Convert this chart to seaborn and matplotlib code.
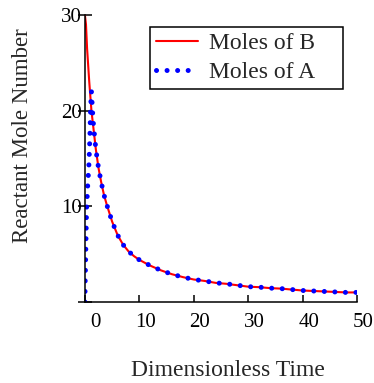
import numpy as np
import pandas as pd
import matplotlib
matplotlib.use("Agg")
import matplotlib.pyplot as plt
import matplotlib.transforms as mtransforms
import seaborn as sns

sns.set_style("ticks")
plt.rcParams["font.family"] = ["Liberation Serif", "DejaVu Serif"]

# ==========================================================
# DATA
# ==========================================================
tempo_b = [0, 0.2, 0.4, 0.8, 1.2, 1.6, 2, 2.5, 3, 3.5, 4, 5, 6, 7, 8, 9, 10,
           12, 14, 16, 18, 20, 22, 24, 26, 28, 30, 32, 34, 36, 38, 40, 42,
           44, 46, 48, 50]
moles_b = [30, 29, 26.5, 23, 20, 18, 16, 14, 12.5, 11.2, 10.2, 8.4, 7.0, 6.0,
           5.3, 4.8, 4.4, 3.8, 3.3, 2.9, 2.6, 2.35, 2.2, 2.0, 1.9, 1.75, 1.6,
           1.55, 1.45, 1.4, 1.3, 1.2, 1.15, 1.1, 1.05, 1.0, 1.0]

tempo_a = [0, 0.05, 0.15, 0.3, 0.5, 0.75, 0.9, 1.05, 1.2, 1.5, 2, 2.5, 3,
           3.5, 4, 5, 6, 7, 8, 9, 10, 12, 14, 16, 18, 20, 22, 24, 26, 28, 30,
           32, 34, 36, 38, 40, 42, 44, 46, 48, 50]
moles_a = [0, 2, 5, 9.6, 12, 14.5, 17, 20.3, 22, 19, 16, 14, 12.5, 11.2,
           10.2, 8.4, 7.0, 6.0, 5.3, 4.8, 4.4, 3.8, 3.3, 2.9, 2.6, 2.35, 2.2,
           2.0, 1.9, 1.75, 1.6, 1.55, 1.45, 1.4, 1.3, 1.2, 1.15, 1.1, 1.05,
           1.0, 1.0]

x_ticks = [0, 10, 20, 30, 40, 50]
y_ticks = [0, 10, 20, 30]
y_tick_labels = ["", "10", "20", "30"]

df_b = pd.DataFrame({"t": tempo_b, "n": moles_b})
df_a = pd.DataFrame({"t": tempo_a, "n": moles_a})

# ==========================================================
# PLOT
# ==========================================================
fig = plt.figure(figsize=(3.74, 3.83), dpi=100)
ax = fig.add_axes([0.227, 0.2115, 0.728, 0.7495])

sns.lineplot(data=df_b, x="t", y="n", ax=ax, color="#ff0000", lw=1.5,
             label="Moles of B")
sns.lineplot(data=df_a, x="t", y="n", ax=ax, color="#0000ff", lw=3.6,
             linestyle=(0, (0.01, 2.1)), dash_capstyle="round",
             label="Moles of A")

ax.set_xlim(0, 50)
ax.set_ylim(0, 30)
ax.set_xticks(x_ticks)
ax.set_yticks(y_ticks)
ax.set_yticklabels(y_tick_labels)
sns.despine(ax=ax)
for s in ["left", "bottom"]:
    ax.spines[s].set_linewidth(1.1)
    ax.spines[s].set_color("black")

ax.tick_params(axis="x", direction="in", length=5, width=1.1, pad=8,
               labelsize=15, colors="black")
ax.tick_params(axis="y", direction="inout", length=10, width=1.1, pad=-3,
               labelsize=15, colors="black")

# as etiquetas do eixo x ficam um pouco à direita dos ticks
for i, lab in enumerate(ax.get_xticklabels()):
    dx = 11 if i == 0 else 6
    lab.set_transform(lab.get_transform() +
                      mtransforms.ScaledTranslation(dx / 100, 0, fig.dpi_scale_trans))

ax.set_xlabel("Dimensionless Time", fontsize=17, va="center")
ax.set_ylabel("Reactant Mole Number", fontsize=16.5, va="center")
ax.xaxis.set_label_coords(0.524, -0.237)
ax.yaxis.set_label_coords(-0.228, 0.58)

leg = ax.legend(loc="upper left", bbox_to_anchor=(0.239, 0.728, 0.71, 0.23),
                mode="expand", fontsize=17, frameon=True, fancybox=False,
                edgecolor="black", framealpha=1, handlelength=1.8,
                handletextpad=0.45, labelspacing=0.3, borderpad=0.25,
                borderaxespad=0)
leg.get_frame().set_linewidth(1.1)

fig.savefig("out.png", dpi=100)
